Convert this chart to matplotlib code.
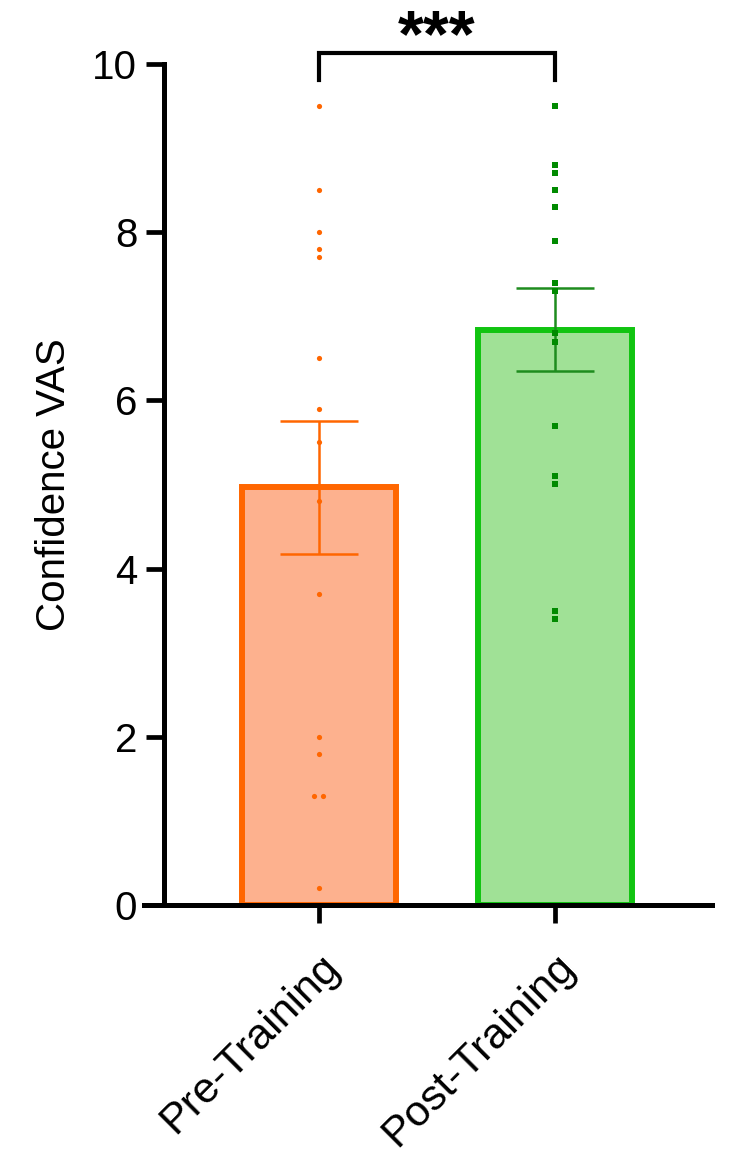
import matplotlib
matplotlib.use('Agg')
import matplotlib.pyplot as plt
import numpy as np

plt.rcParams['font.family'] = ['Liberation Sans', 'DejaVu Sans']

groups = ['Pre-Training', 'Post-Training']
pre_scores = [9.5, 8.5, 8.0, 7.8, 7.7, 6.5, 5.9, 5.5, 4.8, 3.7, 2.0, 1.8, 1.3, 1.3, 0.2]
post_scores = [9.5, 8.8, 8.7, 8.5, 8.3, 7.9, 7.4, 7.3, 6.8, 6.7, 5.7, 5.1, 5.0, 3.5, 3.4]
yticks = [0, 2, 4, 6, 8, 10]
sig_label = '***'

edge_colors = ['#FF6600', '#11C411']
fill_colors = ['#FDB18E', '#A0E196']
err_colors = ['#FF6600', '#1E8C1E']
pt_colors = ['#FF6600', '#008A00']
pt_markers = ['o', 's']

fig = plt.figure(figsize=(7.5, 11.63), dpi=100)
ax = fig.add_axes([144 / 750, 1 - 905 / 1163, (712 - 144) / 750, (905 - 64) / 1163])

x = np.arange(len(groups))
data = [pre_scores, post_scores]
means = [np.mean(d) for d in data]
sems = [np.std(d, ddof=1) / np.sqrt(len(d)) for d in data]

for i, d in enumerate(data):
    ax.bar(x[i], means[i], width=0.65, color=fill_colors[i], edgecolor=edge_colors[i],
           linewidth=4.3, zorder=2)
    ax.errorbar(x[i], means[i], yerr=sems[i], color=err_colors[i], elinewidth=1.8,
                capsize=28, capthick=1.8, zorder=3)
    # spread duplicate values sideways like a column scatter
    xs = []
    seen = {}
    for v in d:
        seen[v] = seen.get(v, 0) + 1
    counts = {}
    for v in d:
        n = seen[v]
        k = counts.get(v, 0)
        counts[v] = k + 1
        xs.append(x[i] + (k - (n - 1) / 2) * 0.04)
    ax.scatter(xs, d, marker=pt_markers[i], s=14 if i == 0 else 22, color=pt_colors[i],
               linewidths=0, zorder=4)

ax.set_xlim(-0.74, 1.665)
ax.set_ylim(0, 10)
ax.spines['left'].set_position(('data', -0.657))
ax.spines['top'].set_visible(False)
ax.spines['right'].set_visible(False)
for s in ['left', 'bottom']:
    ax.spines[s].set_linewidth(3.6)
ax.set_yticks(yticks)
ax.set_xticks(x)
ax.set_xticklabels(groups, rotation=45, ha='right', rotation_mode='anchor')
ax.tick_params(axis='both', labelsize=29, length=13, width=3.4, pad=6)
ax.tick_params(axis='x', pad=17, labelsize=31)
ax.set_ylabel('Confidence VAS', fontsize=29, labelpad=14)

# significance bracket
ax.plot([x[0], x[0], x[1], x[1]], [9.81, 10.13, 10.13, 9.81], color='black', lw=3,
        clip_on=False, solid_joinstyle='miter')
ax.text((x[0] + x[1]) / 2, 10.3, sig_label, ha='center', va='center', fontsize=48,
        fontweight='bold')

fig.savefig('out.png', dpi=100)
